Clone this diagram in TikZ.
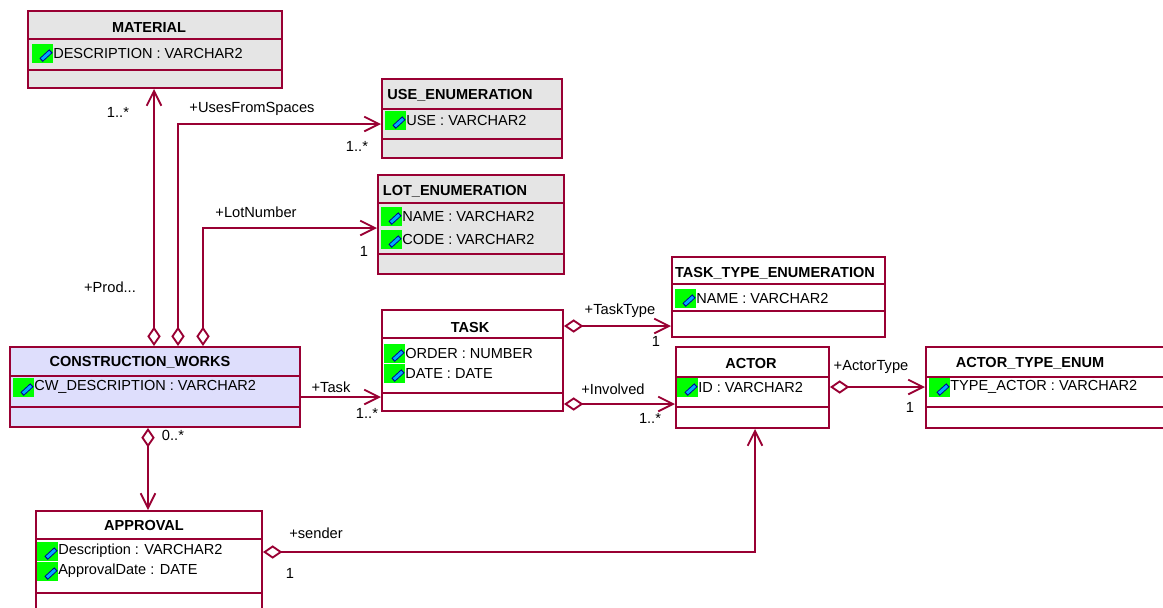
\documentclass[tikz,border=0pt]{standalone}
\usepackage{fontspec}
\setmainfont{Liberation Sans}
\usetikzlibrary{arrows.meta}
\definecolor{umlline}{RGB}{153,0,51}
\definecolor{enumfill}{RGB}{229,229,229}
\definecolor{mainfill}{RGB}{222,222,252}
\definecolor{icongreen}{RGB}{0,255,0}
\definecolor{iconblue}{RGB}{0,170,255}
\tikzset{
  boxsize/.style 2 args={minimum width=#1*0.75pt,minimum height=#2*0.75pt},
  classbox/.style={draw=umlline,line width=1.5pt,inner sep=0pt},
  rowline/.style={draw=umlline,line width=1.1pt},
  classname/.style={font=\fontsize{10.9pt}{12pt}\selectfont\bfseries,inner sep=0pt},
  attr/.style={font=\fontsize{10.9pt}{12pt}\selectfont,inner sep=0pt,anchor=west},
  tag/.style={font=\fontsize{11pt}{12pt}\selectfont,inner sep=0pt},
  attricon/.style={fill=icongreen,inner sep=0pt,anchor=east,boxsize={21}{19},
    path picture={
      \draw[blue!60!black,line width=3.6pt] ([shift={(7pt,1.8pt)}]path picture bounding box.south west) -- ([shift={(14.4pt,8.6pt)}]path picture bounding box.south west);
      \draw[iconblue,line width=2.2pt] ([shift={(7.6pt,2.4pt)}]path picture bounding box.south west) -- ([shift={(13.8pt,8pt)}]path picture bounding box.south west);
    }},
  link/.style={draw=umlline,line width=1.4pt,-{Straight Barb[length=11pt,width=11pt,line width=1.4pt]}},
  aggr/.style={link,{Diamond[open,length=14.5pt,width=10pt,line width=1.4pt]}-{Straight Barb[length=11pt,width=11pt,line width=1.4pt]}}
}
\begin{document}
\begin{tikzpicture}[x=0.75pt,y=-0.75pt]
        \clip (0,0) rectangle (1163,607);
        % Define classes
        \node[classbox,fill=enumfill,boxsize={254}{77}] (material) at (155,49.5) {};
        \node[classbox,fill=enumfill,boxsize={180}{79}] (useenum) at (472,118.5) {};
        \node[classbox,fill=enumfill,boxsize={186}{99}] (lotenum) at (471,224.5) {};
        \node[classbox,boxsize={213}{80}] (tasktype) at (778.5,297) {};
        \node[classbox,boxsize={181}{101}] (task) at (472.5,360.5) {};
        \node[classbox,boxsize={153}{81}] (actor) at (752.5,387.5) {};
        \node[classbox,boxsize={260}{81}] (actortype) at (1056,387.5) {};
        \node[classbox,fill=mainfill,boxsize={290}{80}] (works) at (155,387) {};
        \node[classbox,boxsize={226}{110}] (approval) at (149,566) {};

        % Draw compartment lines
        \draw[rowline] (material.west |- 0,39) -- (material.east |- 0,39);
        \draw[rowline] (material.west |- 0,70) -- (material.east |- 0,70);
        \draw[rowline] (useenum.west |- 0,109) -- (useenum.east |- 0,109);
        \draw[rowline] (useenum.west |- 0,139) -- (useenum.east |- 0,139);
        \draw[rowline] (lotenum.west |- 0,203) -- (lotenum.east |- 0,203);
        \draw[rowline] (lotenum.west |- 0,254) -- (lotenum.east |- 0,254);
        \draw[rowline] (tasktype.west |- 0,284) -- (tasktype.east |- 0,284);
        \draw[rowline] (tasktype.west |- 0,311) -- (tasktype.east |- 0,311);
        \draw[rowline] (task.west |- 0,338) -- (task.east |- 0,338);
        \draw[rowline] (task.west |- 0,393) -- (task.east |- 0,393);
        \draw[rowline] (actor.west |- 0,377) -- (actor.east |- 0,377);
        \draw[rowline] (actor.west |- 0,407) -- (actor.east |- 0,407);
        \draw[rowline] (actortype.west |- 0,377) -- (actortype.east |- 0,377);
        \draw[rowline] (actortype.west |- 0,407) -- (actortype.east |- 0,407);
        \draw[rowline] (works.west |- 0,376) -- (works.east |- 0,376);
        \draw[rowline] (works.west |- 0,407) -- (works.east |- 0,407);
        \draw[rowline] (approval.west |- 0,539) -- (approval.east |- 0,539);
        \draw[rowline] (approval.west |- 0,593) -- (approval.east |- 0,593);

        % Class names
        \node[classname] (materialname) at (149,27) {MATERIAL};
        \node[classname] (usename) at (460,95) {USE\_ENUMERATION};
        \node[classname] (lotname) at (455,191) {LOT\_ENUMERATION};
        \node[classname] (tasktypename) at (775,273) {TASK\_TYPE\_ENUMERATION};
        \node[classname] (taskname) at (470,327) {TASK};
        \node[classname] (actorname) at (751,363) {ACTOR};
        \node[classname] (actortypename) at (1030,363) {ACTOR\_TYPE\_ENUM};
        \node[classname] (worksname) at (140,362) {CONSTRUCTION\_WORKS};
        \node[classname] (approvalname) at (144,525) {APPROVAL};

        % Attributes with their icons
        \node[attr] (materialdesc) at (53,53) {DESCRIPTION : VARCHAR2};
        \node[attr] (useattr) at (406,120) {USE : VARCHAR2};
        \node[attr] (lotname1) at (402,216) {NAME : VARCHAR2};
        \node[attr] (lotcode) at (402,239) {CODE : VARCHAR2};
        \node[attr] (tasktypeattr) at (696,298) {NAME : VARCHAR2};
        \node[attr] (taskorder) at (405,353) {ORDER : NUMBER};
        \node[attr] (taskdate) at (405,373) {DATE : DATE};
        \node[attr] (actorid) at (698,387) {ID : VARCHAR2};
        \node[attr] (actortypeattr) at (950,387) {TYPE\_ACTOR : VARCHAR2};
        \node[attr] (worksdesc) at (34,387) {CW\_DESCRIPTION : VARCHAR2};
        \node[attr] (approvaldesc) at (58,551) {Description : VARCHAR2};
        \node[attr] (approvaldate) at (58,571) {ApprovalDate : DATE};
        \foreach \a in {materialdesc,useattr,lotname1,lotcode,tasktypeattr,taskorder,taskdate,actorid,actortypeattr,worksdesc,approvaldesc,approvaldate}
            \node[attricon] (icon\a) at (\a.west) {};

        % Bends and rows of the connectors
        \coordinate (usesbend) at (178,124);
        \coordinate (lotbend) at (203,228);
        \coordinate (matcol) at (154,0);
        \coordinate (appcol) at (148,0);
        \coordinate (taskrow) at (0,397);
        \coordinate (typerow) at (0,326);
        \coordinate (involvedrow) at (0,404);
        \coordinate (actorrow) at (0,387);
        \coordinate (senderbend) at (755,552);

        % Draw connectors
        \draw[aggr] (works.north -| matcol) -- (material.south -| matcol);
        \draw[aggr] (works.north -| usesbend) -- (usesbend) -- (useenum.west |- usesbend);
        \draw[aggr] (works.north -| lotbend) -- (lotbend) -- (lotenum.west |- lotbend);
        \draw[link] (works.east |- taskrow) -- (task.west |- taskrow);
        \draw[aggr] (works.south -| appcol) -- (approval.north -| appcol);
        \draw[aggr] (task.east |- typerow) -- (tasktype.west |- typerow);
        \draw[aggr] (task.east |- involvedrow) -- (actor.west |- involvedrow);
        \draw[aggr] (actor.east |- actorrow) -- (actortype.west |- actorrow);
        \draw[aggr] (approval.east |- senderbend) -- (senderbend) -- (actor.south -| senderbend);

        % Connector labels
        \node[tag] (matmany) at (118,112) {1..*};
        \node[tag] (usesrole) at (252,109) {+UsesFromSpaces};
        \node[tag] (usemany) at (357,146) {1..*};
        \node[tag] (lotrole) at (256,212) {+LotNumber};
        \node[tag] (lotone) at (364,251) {1};
        \node[tag] (prodrole) at (110,287) {+Prod...};
        \node[tag] (taskrole) at (331,387) {+Task};
        \node[tag] (taskmany) at (367,413) {1..*};
        \node[tag] (worksmany) at (173,435) {0..*};
        \node[tag] (senderrole) at (316,533) {+sender};
        \node[tag] (senderone) at (290,573) {1};
        \node[tag] (typerole) at (620,311) {+TaskType};
        \node[tag] (typeone) at (656,341) {1};
        \node[tag] (involvedrole) at (613,389) {+Involved};
        \node[tag] (involvedmany) at (650,418) {1..*};
        \node[tag] (actorrole) at (871,367) {+ActorType};
        \node[tag] (actorone) at (910,407) {1};
    \end{tikzpicture}
\end{document}
